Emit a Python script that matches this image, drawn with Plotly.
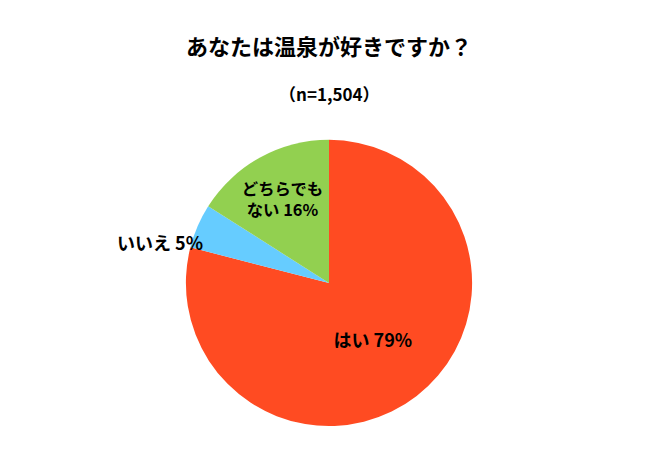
import plotly.graph_objects as go

labels = ["はい", "いいえ", "どちらでもない"]
values = [79, 5, 16]
texts = ["はい 79%", "", "どちらでも<br>ない 16%"]
colors = ["#FF4B22", "#66CCFF", "#92D050"]

font = "Noto Sans CJK JP"
fig = go.Figure(go.Pie(
    labels=labels, values=values, text=texts, texttemplate="%{text}",
    textposition="inside", insidetextorientation="horizontal",
    marker=dict(colors=colors, line=dict(color="white", width=0)),
    sort=False, direction="clockwise", rotation=0,
    domain=dict(x=[0, 1 - 16/658], y=[0.071, 0.707]),
    textfont=dict(family=font, size=18, color="black", weight="bold"),
    showlegend=False, hoverinfo="label+percent",
))
def ann(t, px, py, size):
    fig.add_annotation(text=t, x=px/658, y=1-py/450, xref="paper", yref="paper",
                       xanchor="center", yanchor="middle", showarrow=False,
                       font=dict(family=font, size=size, color="black", weight="bold"))
ann("いいえ 5%", 152, 234, 18)
ann("あなたは温泉が好きですか？", 321, 37, 22)
ann("（n=1,504）", 321, 85, 17)
fig.update_layout(width=658, height=450, margin=dict(l=0, r=0, t=0, b=0),
                  paper_bgcolor="white", plot_bgcolor="white")
fig.write_html("out.html")
